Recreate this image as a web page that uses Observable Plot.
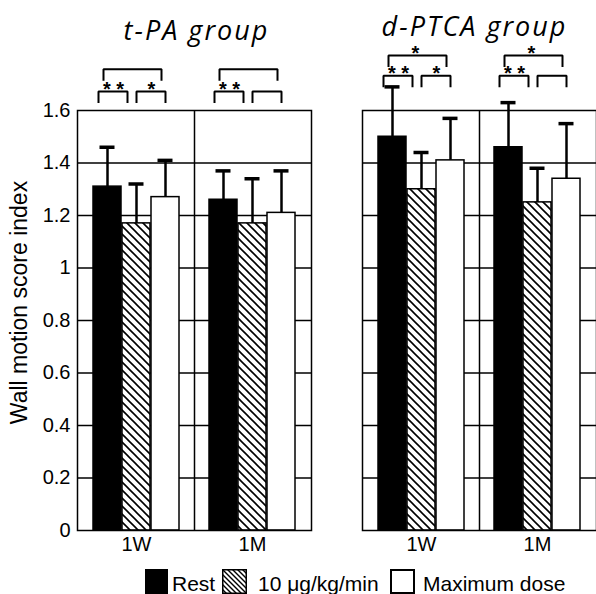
<!DOCTYPE html>
<html>
<head>
<meta charset="utf-8">
<script src="https://cdn.jsdelivr.net/npm/d3@7"></script>
<script src="https://cdn.jsdelivr.net/npm/@observablehq/plot@0.6"></script>
<style>
  html, body { margin: 0; padding: 0; background: #fff; overflow: hidden; }
  body { font-family: "Liberation Sans", Arial, sans-serif; }
  #legend { position: relative; width: 596px; height: 34px; }
  #legend .sw { position: absolute; top: 9px; height: 25px; box-sizing: border-box; display: block; }
  #legend .lt { position: absolute; top: 13px; font-size: 21px; line-height: 21px; color: #000; white-space: nowrap; }
</style>
</head>
<body>
<div id="chart"></div>
<div id="legend"></div>
<script>
// ---------- data ----------
const groups = ["t-PA group", "d-PTCA group"];
const times = ["1W", "1M"];
const doseKeys = ["Rest", "10", "Max"];
const doseLabels = ["Rest", "10 \u03bcg/kg/min", "Maximum dose"];
const yLabel = "Wall motion score index";
// order: 1W Rest, 1W 10, 1W Max, 1M Rest, 1M 10, 1M Max
const tpaMean   = [1.31, 1.17, 1.27, 1.26, 1.17, 1.21];
const tpaSD     = [0.15, 0.15, 0.14, 0.11, 0.17, 0.16];
const dptcaMean = [1.50, 1.30, 1.41, 1.46, 1.25, 1.34];
const dptcaSD   = [0.19, 0.14, 0.16, 0.17, 0.13, 0.21];
const yTicks = [0, 0.2, 0.4, 0.6, 0.8, 1, 1.2, 1.4, 1.6];
// significance brackets
const bracketGroup = ["t-PA group", "t-PA group", "t-PA group", "t-PA group", "t-PA group", "t-PA group",
                      "d-PTCA group", "d-PTCA group", "d-PTCA group", "d-PTCA group", "d-PTCA group", "d-PTCA group"];
const bracketTime  = ["1W", "1W", "1W", "1M", "1M", "1M", "1W", "1W", "1W", "1M", "1M", "1M"];
const bracketPair  = ["Rest-10", "10-Max", "Rest-Max", "Rest-10", "10-Max", "Rest-Max",
                      "Rest-10", "10-Max", "Rest-Max", "Rest-10", "10-Max", "Rest-Max"];
const bracketLabel = ["* *", "*", "", "* *", "", "", "* *", "*", "*", "* *", "", "*"];

// ---------- tables ----------
const rows = [];
groups.forEach((g, gi) => {
  const means = gi === 0 ? tpaMean : dptcaMean;
  const sds = gi === 0 ? tpaSD : dptcaSD;
  times.forEach((t, ti) => doseKeys.forEach((k, di) => {
    const i = ti * 3 + di;
    rows.push({group: g, time: t, dose: k, key: t + "|" + k, mean: means[i], sd: sds[i]});
  }));
});
const xDomain = times.flatMap((t, i) => [...(i ? ["gap"] : []), ...doseKeys.map(k => t + "|" + k)]);

// bracket layout (annotation placement, in y units above the frame)
const bracketLevel = {"t-PA group": {low: 1.672, high: 1.757}, "d-PTCA group": {low: 1.732, high: 1.81}};
const legLen = 0.04;
const pairEnds = {"Rest-10": ["Rest", "10"], "10-Max": ["10", "Max"], "Rest-Max": ["Rest", "Max"]};
const pairShift = {"Rest-10": -9, "10-Max": 0, "Rest-Max": -4};
const brackets = bracketGroup.map((g, i) => {
  const pair = bracketPair[i];
  const top = pair === "Rest-Max" ? bracketLevel[g].high : bracketLevel[g].low;
  return {id: i, group: g, time: bracketTime[i], pair, label: bracketLabel[i], top,
          from: bracketTime[i] + "|" + pairEnds[pair][0], to: bracketTime[i] + "|" + pairEnds[pair][1]};
});
const bracketPts = brackets.flatMap(b => [
  {id: b.id, group: b.group, pair: b.pair, x: b.from, y: b.top - legLen},
  {id: b.id, group: b.group, pair: b.pair, x: b.from, y: b.top},
  {id: b.id, group: b.group, pair: b.pair, x: b.to, y: b.top},
  {id: b.id, group: b.group, pair: b.pair, x: b.to, y: b.top - legLen}
]);
const bracketLine = pair => Plot.line(bracketPts.filter(p => p.pair === pair), {
  x: "x", y: "y", z: "id", fx: "group", dx: pairShift[pair],
  stroke: "black", strokeWidth: 2, strokeLinejoin: "miter", strokeLinecap: "square"
});
const starText = (pair, anchorKey, dx) => Plot.text(brackets.filter(b => b.pair === pair && b.label), {
  x: b => b.time + "|" + anchorKey, y: "top", fx: "group", text: "label", dx, dy: -2,
  fontSize: 20, fontWeight: "bold", fill: "black"
});
const titleText = (g, dx, dy) => Plot.text([g], {fx: d => d, text: d => d, frameAnchor: "top", lineAnchor: "top",
  textAnchor: "middle", dx, dy, fontSize: 27, fontStyle: "italic", fontWeight: 500,
  fontFamily: "'Open Sans', 'DejaVu Sans', sans-serif"});

const barMark = (dose, fill) => Plot.barY(rows.filter(r => r.dose === dose), {
  x: "key", y: "mean", fx: "group", fill, stroke: "black", strokeWidth: 1.5
});

const chart = Plot.plot({
  width: 596,
  height: 560,
  marginLeft: 77,
  marginRight: 0,
  marginTop: 110,
  marginBottom: 30,
  style: {fontFamily: "'Liberation Sans', Arial, sans-serif", fontSize: "20px", color: "black", background: "white"},
  fx: {domain: groups, paddingInner: 0.179, paddingOuter: 0, axis: null, label: null},
  x: {domain: xDomain, paddingInner: 0.05, paddingOuter: 0.5, label: null},
  y: {domain: [0, 1.6], label: null},
  marks: [
    Plot.ruleY(yTicks.slice(1, -1), {stroke: "black", strokeWidth: 1.5}),
    Plot.ruleX(["gap"], {stroke: "black", strokeWidth: 1.5}),
    barMark("Rest", "black"),
    barMark("10", "url(#hatch)"),
    barMark("Max", "white"),
    Plot.ruleX(rows, {x: "key", y1: "mean", y2: d => d.mean + d.sd, fx: "group", stroke: "black", strokeWidth: 2.5}),
    Plot.tickY(rows, {x: "key", y: d => d.mean + d.sd, fx: "group", stroke: "black", strokeWidth: 3.5, insetLeft: 6.5, insetRight: 6.5}),
    Plot.frame({stroke: "black", strokeWidth: 1.5}),
    Plot.axisY({ticks: yTicks, tickFormat: d => String(d), tickSize: 0, tickPadding: 7, fontSize: 20, label: null}),
    Plot.text([yLabel], {fx: () => groups[0], text: d => d, frameAnchor: "left", textAnchor: "middle",
      lineAnchor: "middle", rotate: -90, dx: -58, dy: -18, fontSize: 23}),
    Plot.axisX({ticks: times.map(t => t + "|10"), tickFormat: d => d.split("|")[0], tickSize: 0, tickPadding: 6, fontSize: 20, label: null}),
    bracketLine("Rest-10"),
    bracketLine("10-Max"),
    bracketLine("Rest-Max"),
    starText("Rest-10", "Rest", 6),
    starText("10-Max", "10", 15),
    starText("Rest-Max", "10", -6),
    titleText(groups[0], 2, -90),
    titleText(groups[1], -5, -94)
  ]
});

const svg = chart.tagName.toLowerCase() === "svg" ? chart : chart.querySelector("svg");
const ns = "http://www.w3.org/2000/svg";
const defs = document.createElementNS(ns, "defs");
defs.innerHTML = '<pattern id="hatch" patternUnits="userSpaceOnUse" width="8" height="8">' +
  '<rect width="8" height="8" fill="white"/>' +
  '<path d="M-2,-2 L10,10 M-2,6 L2,10 M6,-2 L10,2" stroke="black" stroke-width="1.6"/></pattern>';
svg.insertBefore(defs, svg.firstChild);
svg.querySelectorAll("text").forEach(t => {
  if (groups.includes(t.textContent)) t.setAttribute("letter-spacing", "2");
});
document.getElementById("chart").appendChild(chart);

// ---------- legend ----------
const legend = document.getElementById("legend");
const swLeft = [145, 222, 390];
const txtLeft = [172, 258, 423];
doseLabels.forEach((lab, i) => {
  let sw;
  if (i === 1) {
    sw = document.createElementNS(ns, "svg");
    sw.setAttribute("width", 25); sw.setAttribute("height", 25);
    sw.innerHTML = '<defs><pattern id="hatchL" patternUnits="userSpaceOnUse" width="5" height="5">' +
      '<rect width="5" height="5" fill="white"/>' +
      '<path d="M-1,-1 L6,6 M-1,4 L1,6 M4,-1 L6,1" stroke="black" stroke-width="1.4"/></pattern></defs>' +
      '<rect x="0.75" y="0.75" width="23.5" height="23.5" fill="url(#hatchL)" stroke="black" stroke-width="1.5"/>';
    sw.setAttribute("class", "sw");
    sw.style.left = swLeft[i] + "px";
  } else {
    sw = document.createElement("span");
    sw.className = "sw";
    sw.style.left = swLeft[i] + "px";
    sw.style.width = (i === 0 ? 23 : 25) + "px";
    sw.style.background = i === 0 ? "#000" : "#fff";
    if (i === 2) sw.style.border = "2px solid #000";
  }
  legend.appendChild(sw);
  const t = document.createElement("span");
  t.className = "lt";
  t.style.left = txtLeft[i] + "px";
  t.textContent = lab;
  legend.appendChild(t);
});
</script>
</body>
</html>
